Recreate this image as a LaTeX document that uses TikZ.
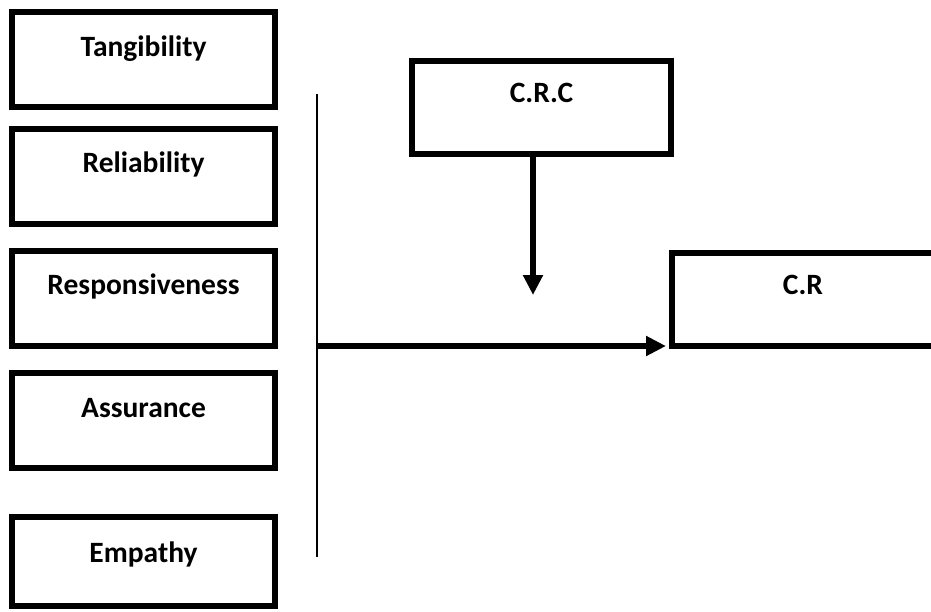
\documentclass[tikz,border=0pt]{standalone}
\usepackage{fontspec}
\setmainfont{Carlito}
\usetikzlibrary{arrows.meta}
\tikzset{
  factor/.style = {draw, line width=6pt, inner sep=0pt, minimum width=263pt,
                   text width=263pt, align=center, text height=44pt,
                   text depth=51pt, font=\fontsize{29.5}{34}\selectfont\bfseries},
  link/.style   = {line width=6pt, -{Triangle[width=19pt,length=20pt]}}
}
\begin{document}
\begin{tikzpicture}[x=1pt,y=-1pt]
  \useasboundingbox (0,0) rectangle (931,611);
  \node[factor] (T) at (143.5,59.5) {Tangibility};
  \node[factor] (R) at (143.5,176) {Reliability};
  \node[factor] (S) at (143.5,298) {Responsiveness};
  \node[factor] (A) at (143.5,420.5) {Assurance};
  \node[factor, text height=45pt, text depth=44pt] (E) at (143.5,561.5) {Empathy};
  \node[factor, minimum width=259pt, text width=259pt, text height=41pt, text depth=52pt] (CRC) at (541.5,107.5) {C.R.C};
  \node[factor, minimum width=262pt, text width=262pt, text height=41pt, text depth=52pt] (CR) at (803,299.5) {C.R};
  \coordinate (top) at (317,94);
  \coordinate (bottom) at (317,557);
  \coordinate (join) at (317,346);
  \coordinate (drop) at (533,295);
  \draw[line width=2pt] (top) -- (bottom);
  \draw[link, shorten >=3pt] (join) -- (join -| CR.west);
  \draw[link] (CRC.south -| drop) -- (drop);
\end{tikzpicture}
\end{document}
